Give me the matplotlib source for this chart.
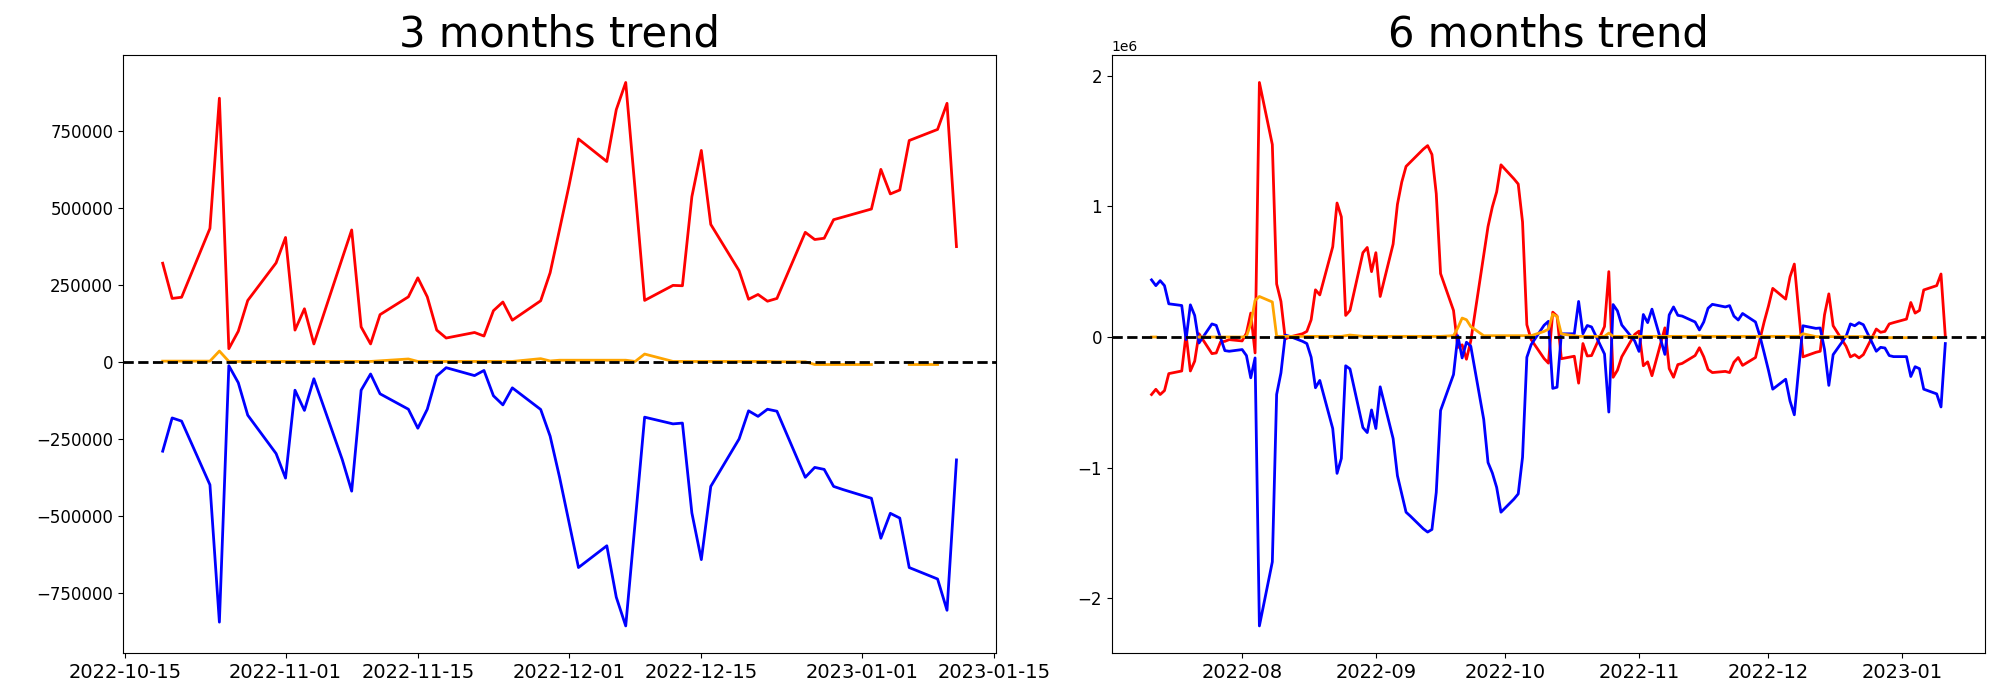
import numpy as np
import pandas as pd
import matplotlib
matplotlib.use("Agg")
import matplotlib.pyplot as plt

nan = np.nan

# ---- 3 months trend (business days 2022-10-19 .. 2023-01-11) ----
dates_3m = pd.bdate_range("2022-10-19", "2023-01-11")

red_3m = [320000, 205600, 209500, 433000, 856000, 42400, 99000, 199000, 321000,
          403600, 102800, 172000, 57800, 336000, 428000, 113000, 57800, 153000,
          210800, 272500, 210800, 102800, 77000, 95000, 83500, 165800, 194000, 135000,
          198000, 289000, 430000, 572000, 723600,
          650300, 818700, 907000, 556500, 199200,
          248000, 246800, 536000, 686300, 446000,
          295600, 203000, 218500, 196600, 205600,
          420300, 397000, 401000, 461400, 470000,
          496000, 624700, 545000, 557800, 718500,
          754500, 839300, 374000]

blue_3m = [-290500, -182500, -192800, -399700, -845700, -12900, -68100, -173500, -298200,
           -377900, -92500, -158100, -55300, -317500, -420300, -92500, -39800, -104100,
           -154200, -215900, -154200, -46300, -19300, -45000, -28300, -110500, -140100, -84800,
           -155000, -241600, -375300, -521800, -668400,
           -597700, -764700, -858000, -520500, -180000,
           -201800, -199200, -491000, -642600, -404900,
           -250600, -159400, -177400, -154200, -160700,
           -375300, -343200, -349600, -404900, -415200,
           -443400, -573200, -492300, -507700, -668400,
           -705600, -807200, -318800]

orange_3m = [2000, 2000, 2000, 2000, 34700, 1000, 1000, 1000, 1000,
             1000, 1000, 1000, 1000, 1000, 1000, 1000, 1000, 3000,
             9000, 1000, 1000, 1000, 1000, 1000, 1000, 1000, 1000, 1000,
             10000, 2500, 5000, 5000, 5000,
             5000, 5000, 5000, 1000, 25000,
             1000, 1000, 1000, 1000, 1000,
             1000, 1000, 1000, 1000, 0,
             0, -9000, -9000, -9000, -9000,
             -9000, nan, nan, nan, -9000,
             -9000, nan, nan]

# ---- 6 months trend (business days 2022-07-11 .. 2023-01-11), in millions ----
dates_6m = pd.bdate_range("2022-07-11", "2023-01-11")

red_6m = [-0.44, -0.40, -0.44, -0.41, -0.28,
          -0.26, 0.02, -0.26, -0.185, 0.025,
          -0.127, -0.122, -0.038, -0.033, -0.02,
          -0.03, 0.03, 0.183, -0.122, 1.947,
          1.472, 0.406, 0.272, -0.015, 0.0,
          0.025, 0.043, 0.132, 0.361, 0.322,
          0.69, 1.025, 0.919, 0.165, 0.203,
          0.645, 0.685, 0.50, 0.645, 0.31,
          0.711, 1.015, 1.185, 1.305, 1.338,
          1.437, 1.464, 1.396, 1.096, 0.485,
          0.203, -0.08, -0.06, -0.17, -0.03,
          0.63, 0.845, 0.995, 1.11, 1.317,
          1.21, 1.17, 0.88, 0.094, -0.02,
          -0.165, -0.2, 0.19, 0.16, -0.166,
          -0.147, -0.353, -0.05, -0.145, -0.142,
          0.08, 0.50, -0.308, -0.254, -0.151,
          0.02, 0.045, -0.22, -0.19, -0.296,
          0.07, -0.242, -0.308, -0.211, -0.202,
          -0.142, -0.082, -0.151, -0.248, -0.272,
          -0.263, -0.272, -0.193, -0.157, -0.217,
          -0.157, -0.02, 0.115, 0.236, 0.372,
          0.29, 0.46, 0.558, 0.2, -0.152,
          -0.117, -0.109, 0.17, 0.33, 0.086,
          -0.071, -0.152, -0.135, -0.16, -0.135,
          0.061, 0.036, 0.043, 0.10, 0.11,
          0.137, 0.264, 0.183, 0.203, 0.36,
          0.393, 0.482, 0.005]

blue_6m = [0.437, 0.393, 0.431, 0.393, 0.254,
           0.241, -0.02, 0.246, 0.165, -0.046,
           0.10, 0.089, -0.008, -0.104, -0.109,
           -0.096, -0.142, -0.312, -0.16, -2.21,
           -1.72, -0.439, -0.274, 0.015, 0.005,
           -0.033, -0.05, -0.155, -0.388, -0.332,
           -0.70, -1.043, -0.929, -0.22, -0.244,
           -0.693, -0.731, -0.558, -0.70, -0.381,
           -0.777, -1.061, -1.20, -1.34, -1.37,
           -1.467, -1.492, -1.472, -1.188, -0.562,
           -0.287, 0.01, -0.16, -0.04, -0.07,
           -0.63, -0.96, -1.04, -1.15, -1.34,
           -1.24, -1.20, -0.92, -0.155, -0.058,
           0.09, 0.12, -0.393, -0.384, 0.024,
           0.025, 0.272, 0.025, 0.088, 0.077,
           -0.13, -0.574, 0.248, 0.20, 0.092,
           -0.03, -0.11, 0.172, 0.11, 0.213,
           -0.133, 0.169, 0.23, 0.166, 0.16,
           0.115, 0.054, 0.115, 0.22, 0.25,
           0.23, 0.24, 0.16, 0.13, 0.18,
           0.115, 0.01, -0.12, -0.254, -0.399,
           -0.323, -0.489, -0.595, -0.25, 0.086,
           0.066, 0.069, -0.096, -0.37, -0.135,
           0.005, 0.10, 0.086, 0.11, 0.094,
           -0.109, -0.079, -0.084, -0.142, -0.15,
           -0.15, -0.302, -0.227, -0.242, -0.399,
           -0.435, -0.535, -0.05]

orange_6m = [0.0, 0.0, nan, nan, nan,
             nan, nan, nan, nan, 0.0,
             0.0, 0.0, 0.0, 0.0, 0.0,
             0.0, 0.005, 0.10, 0.28, 0.31,
             0.268, 0.005, 0.005, 0.005, 0.005,
             0.005, 0.005, 0.005, 0.005, 0.005,
             0.005, 0.005, 0.005, 0.01, 0.015,
             0.005, 0.005, 0.005, 0.005, 0.005,
             0.005, 0.005, 0.005, 0.005, 0.005,
             0.005, 0.005, 0.005, 0.005, 0.005,
             0.01, 0.07, 0.145, 0.132, 0.08,
             0.01, 0.01, 0.01, 0.01, 0.01,
             0.01, 0.01, 0.01, 0.01, 0.01,
             0.043, 0.06, 0.175, 0.157, 0.023,
             0.01, 0.005, 0.005, 0.005, 0.005,
             0.005, 0.03, 0.005, 0.005, 0.005,
             0.005, 0.005, 0.005, 0.005, 0.005,
             0.005, 0.005, 0.005, 0.005, 0.005,
             0.005, 0.01, 0.005, 0.005, 0.005,
             0.005, 0.005, 0.005, 0.005, 0.005,
             0.005, 0.005, 0.005, 0.005, 0.005,
             0.005, 0.005, 0.005, 0.005, 0.025,
             0.003, 0.003, 0.003, 0.003, 0.003,
             0.003, 0.003, 0.003, 0.003, 0.003,
             0.0, -0.005, -0.005, -0.005, -0.005,
             -0.005, nan, nan, nan, -0.005,
             -0.005, nan, nan]

df3 = pd.DataFrame({"red": red_3m, "blue": blue_3m, "orange": orange_3m}, index=dates_3m)
df6 = pd.DataFrame({"red": red_6m, "blue": blue_6m, "orange": orange_6m}, index=dates_6m) * 1e6

fig, axes = plt.subplots(1, 2, figsize=(20, 7), dpi=100)
fig.subplots_adjust(left=0.0615, right=0.9925, bottom=0.067, top=0.921, wspace=0.1325)

for ax, df, title in [(axes[0], df3, "3 months trend"), (axes[1], df6, "6 months trend")]:
    ax.plot(df.index, df["red"], color="red", lw=2)
    ax.plot(df.index, df["blue"], color="blue", lw=2)
    ax.plot(df.index, df["orange"], color="orange", lw=2)
    ax.axhline(0, color="black", linestyle="--", lw=2)
    ax.set_title(title, fontsize=30)
    ax.tick_params(axis="x", labelsize=14)
    ax.tick_params(axis="y", labelsize=12)

# left panel shows the raw numbers, no offset
axes[0].ticklabel_format(axis="y", style="plain")

fig.savefig("out.png")
